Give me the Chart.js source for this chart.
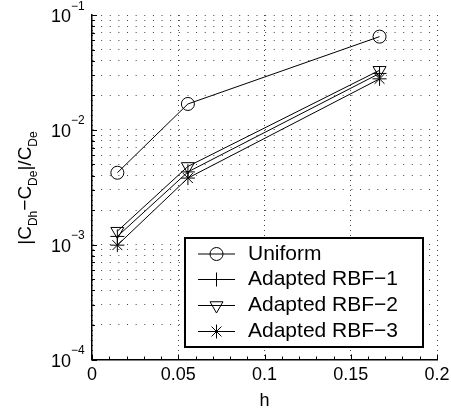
<!DOCTYPE html>
<html>
<head>
<meta charset="utf-8">
<script src="https://cdn.jsdelivr.net/npm/chart.js@4.4.0/dist/chart.umd.min.js"></script>
<style>
  html, body { margin: 0; padding: 0; background: #fff; }
</style>
</head>
<body>
<canvas id="grafica" width="451" height="416"></canvas>
<script>
// Datos
var h = [0.0147, 0.0556, 0.1667];
var uniforme = [0.00423, 0.0168, 0.0648];
var rbf1 = [0.00118, 0.0043, 0.031];
var rbf2 = [0.00131, 0.0048, 0.033];
var rbf3 = [0.00099, 0.0038, 0.0278];
var nombres = ['Uniform', 'Adapted RBF\u22121', 'Adapted RBF\u22122', 'Adapted RBF\u22123'];
var xTicks = [0, 0.05, 0.1, 0.15, 0.2];
var yExponentes = [-4, -3, -2, -1];

var fuente = '"Liberation Sans", Arial, Helvetica, sans-serif';

// Estilo de marcador para cada serie
var marcadores = [
  { pointStyle: 'circle', radius: 6.5, rotation: 0 },
  { pointStyle: 'cross', radius: 7, rotation: 0 },
  { pointStyle: 'triangle', radius: 7.5, rotation: 180 },
  { pointStyle: 'star', radius: 7, rotation: 0 }
];

function puntos(ys) {
  return h.map(function (x, i) { return { x: x, y: ys[i] }; });
}

var series = [uniforme, rbf1, rbf2, rbf3];
var datasets = series.map(function (ys, i) {
  return {
    label: nombres[i],
    data: puntos(ys),
    borderColor: '#000',
    borderWidth: 1,
    backgroundColor: 'rgba(0,0,0,0)',
    pointStyle: marcadores[i].pointStyle,
    pointRadius: marcadores[i].radius,
    pointRotation: marcadores[i].rotation,
    pointBorderColor: '#000',
    pointBackgroundColor: 'rgba(0,0,0,0)',
    pointBorderWidth: 1,
    tension: 0,
    fill: false
  };
});

function esPotencia(v) {
  var l = Math.log10(v);
  return Math.abs(l - Math.round(l)) < 1e-9;
}

// Ejes, etiquetas con superindice, titulo del eje y y leyenda
var pluginEjes = {
  id: 'ejes',
  afterDraw: function (chart) {
    var ctx = chart.ctx, ca = chart.chartArea;
    var sx = chart.scales.x, sy = chart.scales.y;
    ctx.save();
    ctx.strokeStyle = '#000';
    ctx.fillStyle = '#000';
    ctx.lineWidth = 1;

    // marcas del eje y hacia dentro
    sy.ticks.forEach(function (t) {
      var py = Math.round(sy.getPixelForValue(t.value)) + 0.5;
      var largo = esPotencia(t.value) ? 5 : 3;
      ctx.beginPath();
      ctx.moveTo(ca.left, py);
      ctx.lineTo(ca.left + largo, py);
      ctx.stroke();
    });

    // marcas del eje x (menores cada 0.01)
    for (var i = 0; i <= 20; i++) {
      var px = Math.round(sx.getPixelForValue(i / 100)) + 0.5;
      var lx = (i % 5 === 0) ? 5 : 3;
      ctx.beginPath();
      ctx.moveTo(px, ca.bottom);
      ctx.lineTo(px, ca.bottom - lx);
      ctx.stroke();
    }

    // etiquetas 10^n
    yExponentes.forEach(function (e) {
      var py = sy.getPixelForValue(Math.pow(10, e));
      ctx.font = '18px ' + fuente;
      ctx.textAlign = 'right';
      ctx.textBaseline = 'alphabetic';
      ctx.fillText('10', ca.left - 21, py + 7);
      ctx.font = '12px ' + fuente;
      ctx.textAlign = 'left';
      ctx.fillText('\u2212' + Math.abs(e), ca.left - 21, py - 5.5);
    });

    // titulo del eje y: |C_Dh - C_De|/C_De
    var partes = [['|C', 0], ['Dh', 1], ['\u2212C', 0], ['De', 1], ['|/C', 0], ['De', 1]];
    var total = 0;
    partes.forEach(function (p) {
      ctx.font = (p[1] ? '12px ' : '19px ') + fuente;
      p.push(ctx.measureText(p[0]).width);
      total += p[2];
    });
    ctx.save();
    ctx.translate(31, 188);
    ctx.rotate(-Math.PI / 2);
    ctx.textAlign = 'left';
    ctx.textBaseline = 'alphabetic';
    var cx = -total / 2;
    partes.forEach(function (p) {
      ctx.font = (p[1] ? '12px ' : '19px ') + fuente;
      ctx.fillText(p[0], cx, p[1] ? 6 : 0);
      cx += p[2];
    });
    ctx.restore();

    // leyenda
    var lx0 = 185, ly0 = 238, lw = 238, lh = 109;
    ctx.fillStyle = '#fff';
    ctx.fillRect(lx0, ly0, lw, lh);
    ctx.lineWidth = 2;
    ctx.strokeStyle = '#000';
    ctx.strokeRect(lx0, ly0, lw, lh);
    var filas = [254, 279.5, 305.5, 331.5];
    nombres.forEach(function (n, i) {
      var y = filas[i];
      ctx.lineWidth = 1;
      ctx.strokeStyle = '#000';
      ctx.beginPath();
      ctx.moveTo(198, y);
      ctx.lineTo(235, y);
      ctx.stroke();
      ctx.fillStyle = 'rgba(0,0,0,0)';
      Chart.helpers.drawPoint(ctx, {
        pointStyle: marcadores[i].pointStyle,
        radius: marcadores[i].radius,
        rotation: marcadores[i].rotation,
        borderWidth: 1
      }, 216.5, y);
      ctx.fillStyle = '#000';
      ctx.font = '21px ' + fuente;
      ctx.textAlign = 'left';
      ctx.textBaseline = 'middle';
      ctx.fillText(n, 248, y);
    });
    ctx.restore();
  }
};

var ctx = document.getElementById('grafica').getContext('2d');
var grafica = new Chart(ctx, {
  type: 'line',
  data: { datasets: datasets },
  plugins: [pluginEjes],
  options: {
    responsive: false,
    animation: false,
    layout: { padding: { left: 92, right: 14, top: 15, bottom: 4.3 } },
    plugins: { legend: { display: false }, tooltip: { enabled: false } },
    scales: {
      x: {
        type: 'linear',
        min: 0,
        max: 0.2,
        afterBuildTicks: function (scale) {
          scale.ticks = xTicks.map(function (v) { return { value: v }; });
        },
        afterFit: function (scale) {
          scale.paddingLeft = 0;
          scale.paddingRight = 0;
        },
        ticks: {
          color: '#000',
          padding: 4.5,
          font: { size: 18, family: fuente },
          maxRotation: 0,
          autoSkip: false,
          callback: function (v) { return String(+Number(v).toFixed(2)); }
        },
        grid: { color: '#444', lineWidth: 1, drawTicks: false },
        border: { display: true, color: '#000', width: 1.5, dash: [1, 4] },
        title: {
          display: true,
          text: 'h',
          color: '#000',
          font: { size: 18, family: fuente },
          padding: { top: 0, bottom: 0 }
        }
      },
      y: {
        type: 'logarithmic',
        min: 1e-4,
        max: 1e-1,
        afterBuildTicks: function (scale) {
          var t = [];
          for (var e = -4; e <= -2; e++) {
            for (var m = 1; m <= 9; m++) {
              t.push({ value: parseFloat((m * Math.pow(10, e)).toPrecision(3)) });
            }
          }
          t.push({ value: 0.1 });
          scale.ticks = t;
        },
        ticks: { display: false },
        grid: { color: '#444', lineWidth: 1, drawTicks: false },
        border: { display: true, color: '#000', width: 1.5, dash: [1, 7.63] },
        title: { display: false }
      }
    }
  }
});
</script>
</body>
</html>
